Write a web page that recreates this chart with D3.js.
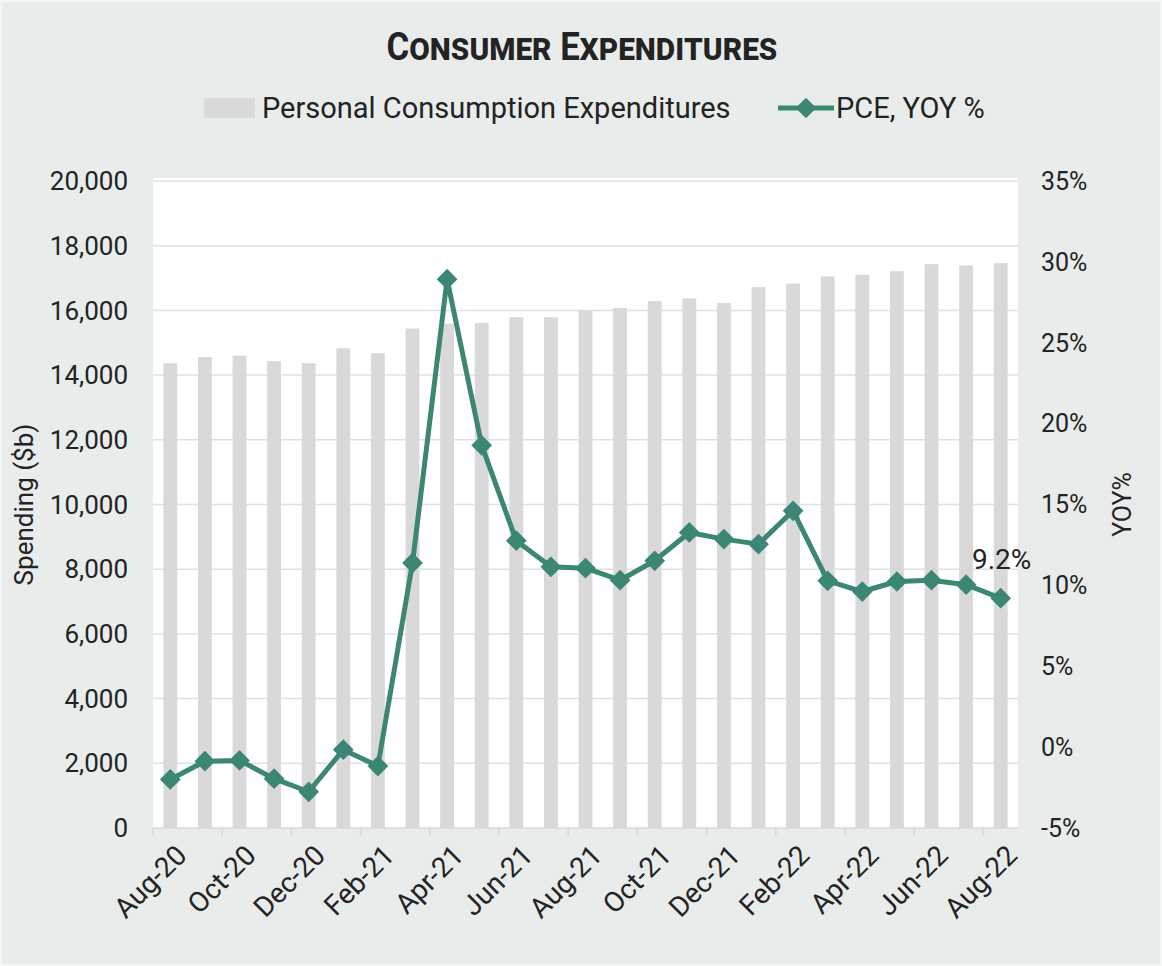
<!DOCTYPE html>
<html>
<head>
<meta charset="utf-8">
<script src="https://cdn.jsdelivr.net/npm/d3@7"></script>
<style>
  body{margin:0;background:#e8ecea;}
  svg{display:block;font-family:Roboto,"Noto Sans",sans-serif;}
</style>
</head>
<body>
<svg id="chart" width="1162" height="966"></svg>
<script>
const months=["Aug-20","Sep-20","Oct-20","Nov-20","Dec-20","Jan-21","Feb-21","Mar-21","Apr-21","May-21","Jun-21","Jul-21",
  "Aug-21","Sep-21","Oct-21","Nov-21","Dec-21","Jan-22","Feb-22","Mar-22","Apr-22","May-22","Jun-22","Jul-22","Aug-22"];
const spending=[14370,14560,14600,14430,14370,14830,14680,15440,15590,15610,15790,15790,
  15990,16070,16290,16370,16230,16720,16830,17050,17100,17210,17430,17390,17460];
const yoy=[-2.0,-0.87,-0.82,-1.95,-2.76,-0.16,-1.17,11.39,28.93,18.66,12.76,11.15,
  11.06,10.32,11.52,13.27,12.86,12.55,14.61,10.28,9.62,10.24,10.32,10.04,9.21];
const leftTicks=[0,2000,4000,6000,8000,10000,12000,14000,16000,18000,20000];
const rightTicks=[-5,0,5,10,15,20,25,30,35];
const labelEvery=2;

const svg=d3.select("#chart");
const W=1162,H=966;
const m={l:153,r:144,t:181,b:138};
const green="#3b8774";
const ink="#232323";

svg.append("rect").attr("x",1).attr("y",1).attr("width",W-2).attr("height",H-2)
  .attr("fill","#e8ecea").attr("stroke","#f4f6f5").attr("stroke-width",2);

const x=d3.scaleBand().domain(months).range([m.l,W-m.r]).paddingInner(0.6).paddingOuter(0.3);
const yL=d3.scaleLinear().domain([0,20000]).range([H-m.b,m.t]);
const yR=d3.scaleLinear().domain([-5,35]).range([H-m.b,m.t]);

// plot area
svg.append("rect").attr("x",m.l).attr("y",m.t-3).attr("width",W-m.r-m.l).attr("height",H-m.b-m.t+3).attr("fill","#fff");

// gridlines
svg.append("g").selectAll("line").data(leftTicks.slice(1)).join("line")
  .attr("x1",m.l).attr("x2",W-m.r).attr("y1",d=>yL(d)).attr("y2",d=>yL(d))
  .attr("stroke","#e0e0e0").attr("stroke-width",1.5);

// bars
svg.append("g").selectAll("rect").data(spending).join("rect")
  .attr("x",(d,i)=>x(months[i])).attr("width",x.bandwidth())
  .attr("y",d=>yL(d)).attr("height",d=>yL(0)-yL(d)).attr("fill","#d9d9d9");

// x axis
const step=x.step();
const xa=svg.append("g");
xa.append("line").attr("x1",m.l).attr("x2",W-m.r).attr("y1",yL(0)).attr("y2",yL(0)).attr("stroke","#d9d9d9").attr("stroke-width",1.5);
const tickIdx=d3.range(0,months.length+1,labelEvery);
xa.selectAll(".tk").data(tickIdx).join("line").attr("class","tk")
  .attr("x1",i=>m.l+i*step).attr("x2",i=>m.l+i*step).attr("y1",yL(0)).attr("y2",yL(0)+8)
  .attr("stroke","#d9d9d9").attr("stroke-width",1.5);
xa.selectAll("text").data(months.filter((d,i)=>i%labelEvery===0)).join("text")
  .attr("transform",d=>`translate(${x(d)+x.bandwidth()/2+4},${yL(0)+15}) rotate(-45)`)
  .attr("text-anchor","end").attr("dy","0.71em").attr("font-size",28).attr("fill",ink).text(d=>d);

// left axis
svg.append("g").selectAll("text").data(leftTicks).join("text")
  .attr("x",m.l-25).attr("y",d=>yL(d)).attr("dy","0.35em").attr("text-anchor","end")
  .attr("font-size",26).attr("fill",ink).text(d3.format(","));
// right axis
svg.append("g").selectAll("text").data(rightTicks).join("text")
  .attr("x",W-m.r+23).attr("y",d=>yR(d)).attr("dy","0.35em").attr("text-anchor","start")
  .attr("font-size",25).attr("fill",ink).text(d=>d+"%");

svg.append("text").attr("transform",`translate(33,${(yL(0)+yL(20000))/2}) rotate(-90)`)
  .attr("text-anchor","middle").attr("font-size",26).attr("fill",ink).text("Spending ($b)");
svg.append("text").attr("transform",`translate(1131,${(yL(0)+yL(20000))/2}) rotate(-90)`)
  .attr("text-anchor","middle").attr("font-size",25).attr("fill",ink).text("YOY%");

// line
const cx=(d,i)=>x(months[i])+x.bandwidth()/2;
svg.append("path").datum(yoy).attr("fill","none").attr("stroke",green).attr("stroke-width",5)
  .attr("stroke-linejoin","round")
  .attr("d",d3.line().x(cx).y(d=>yR(d)));
const diamond=d3.symbol().type(d3.symbolSquare).size(215);
svg.append("g").selectAll("path").data(yoy).join("path")
  .attr("transform",(d,i)=>`translate(${cx(d,i)},${yR(d)}) rotate(45)`)
  .attr("d",diamond).attr("fill",green);

// last value label
const li=yoy.length-1;
svg.append("text").attr("x",cx(yoy[li],li)+1).attr("y",yR(yoy[li])-29)
  .attr("text-anchor","middle").attr("font-size",28).attr("fill",ink).text(d3.format(".1f")(yoy[li])+"%");

// title
svg.append("text").attr("x",582).attr("y",60).attr("text-anchor","middle")
  .attr("font-size",38).attr("font-weight","bold").attr("fill",ink)
  .style("font-variant","small-caps").attr("textLength",391).attr("lengthAdjust","spacingAndGlyphs")
  .text("Consumer Expenditures");

// legend
const lg=svg.append("g");
lg.append("rect").attr("x",204).attr("y",98).attr("width",51).attr("height",20).attr("fill","#d9d9d9");
lg.append("text").attr("x",262).attr("y",118).attr("font-size",29).attr("fill",ink).text("Personal Consumption Expenditures");
lg.append("line").attr("x1",778).attr("x2",834).attr("y1",108).attr("y2",108).attr("stroke",green).attr("stroke-width",5);
lg.append("path").attr("transform","translate(806,108) rotate(45)").attr("d",diamond).attr("fill",green);
lg.append("text").attr("x",836).attr("y",118).attr("font-size",29).attr("fill",ink).text("PCE, YOY %");
</script>
</body>
</html>
